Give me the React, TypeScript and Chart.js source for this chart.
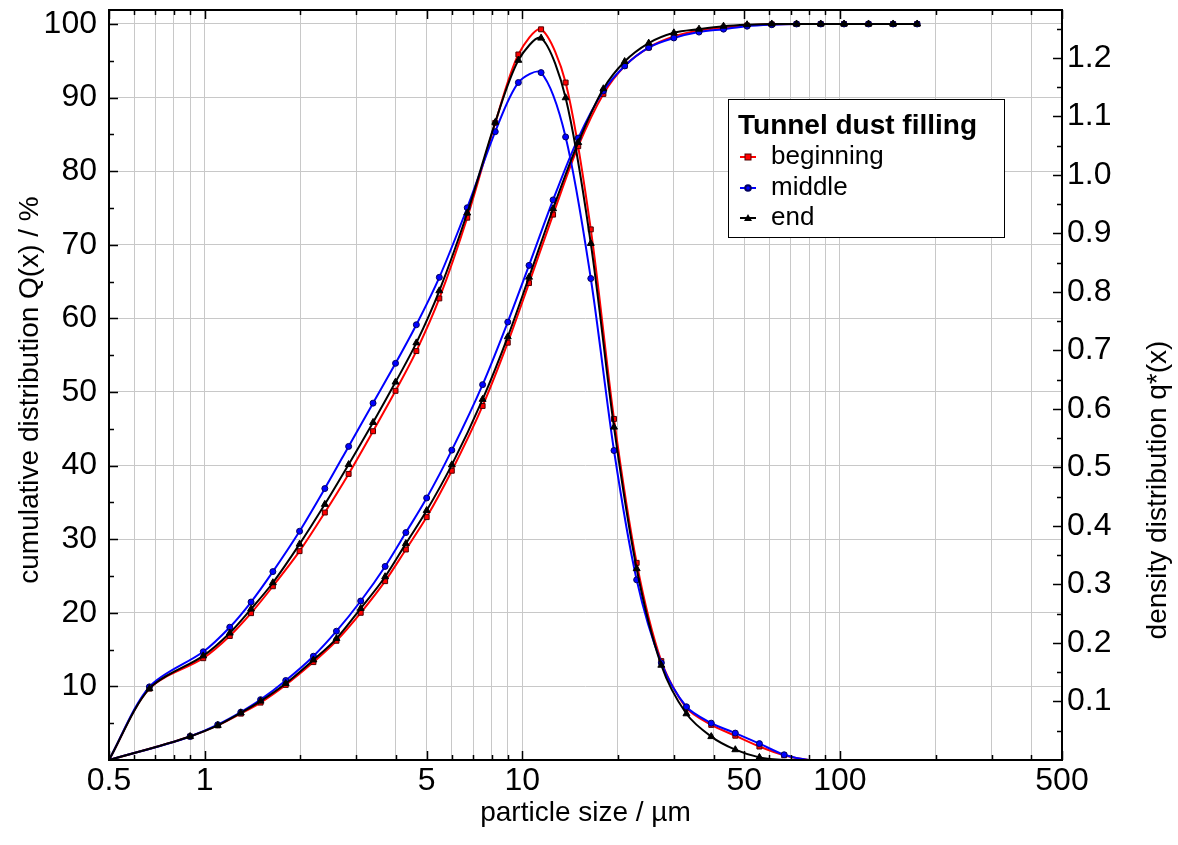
import React, { useEffect, useRef } from 'react';
import { Chart, registerables } from 'chart.js';

Chart.register(...registerables);

// Particle size class edges (µm) for cumulative distribution Q(x)
const sizeEdges = [0.5, 0.9, 1.1, 1.3, 1.5, 1.8, 2.2, 2.6, 3.1, 3.7, 4.3, 5.0, 6.0, 7.5, 9.0, 10.5, 12.5, 15, 18, 21, 25, 30, 36, 43, 51, 61, 73, 87, 103, 123, 147, 175];
const cumBeginning = [0, 3.2, 4.7, 6.3, 7.8, 10.2, 13.3, 16.2, 20.0, 24.3, 28.6, 33.0, 39.3, 48.1, 56.7, 64.8, 74.1, 83.4, 90.5, 94.3, 96.8, 98.3, 99.1, 99.5, 99.8, 99.95, 100, 100, 100, 100, 100, 100];
const cumMiddle = [0, 3.2, 4.8, 6.5, 8.2, 10.8, 14.1, 17.5, 21.6, 26.3, 30.9, 35.6, 42.1, 51.0, 59.5, 67.2, 76.1, 84.5, 90.9, 94.3, 96.8, 98.1, 98.9, 99.3, 99.7, 99.9, 100, 100, 100, 100, 100, 100];
const cumEnd = [0, 3.2, 4.7, 6.4, 8.0, 10.4, 13.6, 16.5, 20.6, 24.9, 29.4, 33.9, 40.1, 49.0, 57.5, 65.6, 74.9, 83.9, 91.2, 94.9, 97.4, 98.8, 99.3, 99.7, 99.9, 100, 100, 100, 100, 100, 100, 100];

// Class mid sizes (µm) for density distribution q*(x)
const sizeMids = [0.5, 0.67, 0.99, 1.2, 1.4, 1.64, 1.99, 2.39, 2.84, 3.39, 3.99, 4.64, 5.48, 6.71, 8.22, 9.72, 11.46, 13.69, 16.43, 19.44, 22.91, 27.39, 32.86, 39.34, 46.83, 55.78, 66.73, 79.69, 94.67, 112.55, 134.47, 160.44, 175];
const denBeginning = [0, 0.122, 0.174, 0.212, 0.251, 0.297, 0.357, 0.423, 0.489, 0.562, 0.631, 0.699, 0.789, 0.927, 1.089, 1.206, 1.249, 1.158, 0.907, 0.583, 0.337, 0.169, 0.089, 0.060, 0.0415, 0.023, 0.008, 0, 0, 0, 0, 0, 0];
const denMiddle = [0, 0.125, 0.185, 0.227, 0.270, 0.322, 0.391, 0.464, 0.536, 0.610, 0.678, 0.744, 0.825, 0.944, 1.074, 1.158, 1.175, 1.065, 0.823, 0.529, 0.308, 0.166, 0.091, 0.063, 0.046, 0.028, 0.009, 0, 0, 0, 0, 0, 0];
const denEnd = [0, 0.122, 0.178, 0.217, 0.258, 0.303, 0.369, 0.437, 0.505, 0.577, 0.646, 0.713, 0.802, 0.935, 1.090, 1.196, 1.234, 1.132, 0.883, 0.569, 0.327, 0.162, 0.079, 0.040, 0.0176, 0.0045, 0, 0, 0, 0, 0, 0, 0];

// Axis ticks
const xGridValues = [0.5, 0.6, 0.7, 0.8, 0.9, 1, 2, 3, 4, 5, 6, 7, 8, 9, 10, 20, 30, 40, 50, 60, 70, 80, 90, 100, 200, 300, 400, 500];
const xTickLabels = [0.5, 1, 5, 10, 50, 100, 500];
const leftTicks = [10, 20, 30, 40, 50, 60, 70, 80, 90, 100];
const leftMinorTicks = [5, 15, 25, 35, 45, 55, 65, 75, 85, 95];
const rightTicks = [0.1, 0.2, 0.3, 0.4, 0.5, 0.6, 0.7, 0.8, 0.9, 1.0, 1.1, 1.2];
const rightMinorTicks = [0.05, 0.15, 0.25, 0.35, 0.45, 0.55, 0.65, 0.75, 0.85, 0.95, 1.05, 1.15, 1.25];

const seriesNames = ['beginning', 'middle', 'end'];
const seriesColors = ['#ff0000', '#0000ff', '#000000'];

const FONT = '"Liberation Sans", Arial, sans-serif';

function pts(xs: number[], ys: number[]) {
  return xs.map((x, i) => ({ x, y: ys[i] }));
}

function drawMarker(ctx: CanvasRenderingContext2D, idx: number, x: number, y: number) {
  ctx.save();
  if (idx === 0) {
    ctx.fillStyle = '#ff0000';
    ctx.strokeStyle = '#500000';
    ctx.lineWidth = 1;
    ctx.fillRect(x - 3, y - 3, 6, 6);
    ctx.strokeRect(x - 3, y - 3, 6, 6);
  } else if (idx === 1) {
    ctx.fillStyle = '#0000ff';
    ctx.strokeStyle = '#000060';
    ctx.beginPath();
    ctx.arc(x, y, 2.8, 0, Math.PI * 2);
    ctx.fill();
    ctx.stroke();
  } else {
    ctx.fillStyle = '#000';
    ctx.beginPath();
    ctx.moveTo(x, y - 4);
    ctx.lineTo(x + 4, y + 3);
    ctx.lineTo(x - 4, y + 3);
    ctx.closePath();
    ctx.fill();
  }
  ctx.restore();
}

const framePlugin = {
  id: 'frame',
  afterDatasetsDraw(chart: any) {
    const { ctx, chartArea: a, scales } = chart;
    const xs = scales.x;
    const yl = scales.yL;
    const yr = scales.yR;
    ctx.save();
    ctx.strokeStyle = '#000';
    ctx.lineWidth = 1.5;
    ctx.beginPath();
    xGridValues.forEach((v) => {
      const px = Math.round(xs.getPixelForValue(v)) + 0.5;
      const len = xTickLabels.includes(v) ? 9 : 5;
      ctx.moveTo(px, a.bottom);
      ctx.lineTo(px, a.bottom - len);
      ctx.moveTo(px, a.top);
      ctx.lineTo(px, a.top + len);
    });
    leftTicks.forEach((v) => {
      const py = Math.round(yl.getPixelForValue(v)) + 0.5;
      ctx.moveTo(a.left, py);
      ctx.lineTo(a.left + 9, py);
    });
    leftMinorTicks.forEach((v) => {
      const py = Math.round(yl.getPixelForValue(v)) + 0.5;
      ctx.moveTo(a.left, py);
      ctx.lineTo(a.left + 5, py);
    });
    rightTicks.forEach((v) => {
      const py = Math.round(yr.getPixelForValue(v)) + 0.5;
      ctx.moveTo(a.right, py);
      ctx.lineTo(a.right - 9, py);
    });
    rightMinorTicks.forEach((v) => {
      const py = Math.round(yr.getPixelForValue(v)) + 0.5;
      ctx.moveTo(a.right, py);
      ctx.lineTo(a.right - 5, py);
    });
    ctx.stroke();

    ctx.lineWidth = 2;
    ctx.strokeRect(a.left, a.top, a.right - a.left, a.bottom - a.top);

    // axis titles
    ctx.fillStyle = '#000';
    ctx.font = `28px ${FONT}`;
    ctx.textAlign = 'center';
    ctx.textBaseline = 'middle';
    ctx.fillText('particle size / µm', (a.left + a.right) / 2, 813);
    ctx.save();
    ctx.translate(30, 390);
    ctx.rotate(-Math.PI / 2);
    ctx.fillText('cumulative distribution Q(x) / %', 0, 0);
    ctx.restore();
    ctx.save();
    ctx.translate(1158, 490);
    ctx.rotate(-Math.PI / 2);
    ctx.fillText('density distribution q*(x)', 0, 0);
    ctx.restore();

    // legend
    const bx = 728, by = 99, bw = 276, bh = 138;
    ctx.fillStyle = '#fff';
    ctx.fillRect(bx, by, bw, bh);
    ctx.lineWidth = 1;
    ctx.strokeStyle = '#000';
    ctx.strokeRect(bx + 0.5, by + 0.5, bw, bh);
    ctx.fillStyle = '#000';
    ctx.textAlign = 'left';
    ctx.font = `bold 28px ${FONT}`;
    ctx.fillText('Tunnel dust filling', 738, 126);
    ctx.font = `26px ${FONT}`;
    const rows = [157, 188, 218];
    seriesNames.forEach((name, i) => {
      const y = rows[i];
      ctx.strokeStyle = seriesColors[i];
      ctx.lineWidth = 2;
      ctx.beginPath();
      ctx.moveTo(740, y);
      ctx.lineTo(756, y);
      ctx.stroke();
      drawMarker(ctx, i, 748, y);
      ctx.fillStyle = '#000';
      ctx.fillText(name, 771, y);
    });
    ctx.restore();
  },
};

export default function App() {
  const ref = useRef<HTMLCanvasElement>(null);
  useEffect(() => {
    const canvas = ref.current;
    if (!canvas) return;
    const pointStyles = ['rect', 'circle', 'triangle'];
    const radii = [3.5, 3, 4];
    const borders = ['#500000', '#000060', '#000000'];
    const orders = [2, 1, 0];
    const mkSet = (label: string, data: { x: number; y: number }[], i: number, axis: string, tension: number, mono: boolean) => ({
      label,
      data,
      yAxisID: axis,
      borderColor: seriesColors[i],
      backgroundColor: seriesColors[i],
      pointBackgroundColor: seriesColors[i],
      pointBorderColor: borders[i],
      pointBorderWidth: 1,
      pointStyle: pointStyles[i],
      pointRadius: (c: any) => (c.raw && c.raw.y === 0 ? 0 : radii[i]),
      borderWidth: 2,
      tension,
      cubicInterpolationMode: mono ? 'monotone' : 'default',
      order: orders[i],
      fill: false,
    });
    const cums = [cumBeginning, cumMiddle, cumEnd];
    const dens = [denBeginning, denMiddle, denEnd];
    const datasets: any[] = [];
    seriesNames.forEach((n, i) => {
      datasets.push(mkSet('Q ' + n, pts(sizeEdges, cums[i]), i, 'yL', 0.4, true));
      datasets.push(mkSet('q ' + n, pts(sizeMids, dens[i]), i, 'yR', 0.3, false));
    });
    const tickFont = { family: FONT, size: 32 };
    const chart = new Chart(canvas, {
      type: 'line',
      data: { datasets },
      plugins: [framePlugin],
      options: {
        responsive: false,
        maintainAspectRatio: false,
        devicePixelRatio: 1,
        animation: false,
        parsing: false as any,
        layout: { padding: { top: 10, left: 0, right: 0, bottom: 0 } },
        plugins: { legend: { display: false }, tooltip: { enabled: false }, title: { display: false } },
        elements: { line: { capBezierPoints: true } },
        scales: {
          x: {
            type: 'logarithmic',
            position: 'bottom',
            min: 0.5,
            max: 500,
            afterBuildTicks: (s: any) => {
              s.ticks = xGridValues.map((v) => ({ value: v }));
            },
            afterFit: (s: any) => {
              s.height = 85;
              s.paddingLeft = 0;
              s.paddingRight = 0;
            },
            grid: { color: '#c8c8c8', lineWidth: 1, drawTicks: false },
            border: { display: false },
            ticks: {
              autoSkip: false,
              maxRotation: 0,
              minRotation: 0,
              padding: 2,
              color: '#000',
              font: tickFont,
              callback: (v: any) => (xTickLabels.includes(Number(v)) ? String(v) : ''),
            },
          },
          yL: {
            type: 'linear',
            position: 'left',
            min: 0,
            max: 101.9,
            afterBuildTicks: (s: any) => {
              s.ticks = leftTicks.map((v) => ({ value: v }));
            },
            afterFit: (s: any) => {
              s.width = 109;
              s.paddingTop = 0;
              s.paddingBottom = 0;
            },
            grid: { color: '#c8c8c8', lineWidth: 1, drawTicks: false },
            border: { display: false },
            ticks: { padding: 12, color: '#000', font: tickFont, callback: (v: any) => String(v) },
          },
          yR: {
            type: 'linear',
            position: 'right',
            min: 0,
            max: 1.282,
            afterBuildTicks: (s: any) => {
              s.ticks = rightTicks.map((v) => ({ value: v }));
            },
            afterFit: (s: any) => {
              s.width = 116;
              s.paddingTop = 0;
              s.paddingBottom = 0;
            },
            grid: { display: false, drawTicks: false },
            border: { display: false },
            ticks: { padding: 5, color: '#000', font: tickFont, callback: (v: any) => Number(v).toFixed(1) },
          },
        },
      } as any,
    });
    return () => chart.destroy();
  }, []);
  return (
    <div style={{ position: 'fixed', left: 0, top: 0, width: 1178, height: 845, background: '#fff' }}>
      <canvas ref={ref} width={1178} height={845} style={{ display: 'block', width: 1178, height: 845 }} />
    </div>
  );
}
